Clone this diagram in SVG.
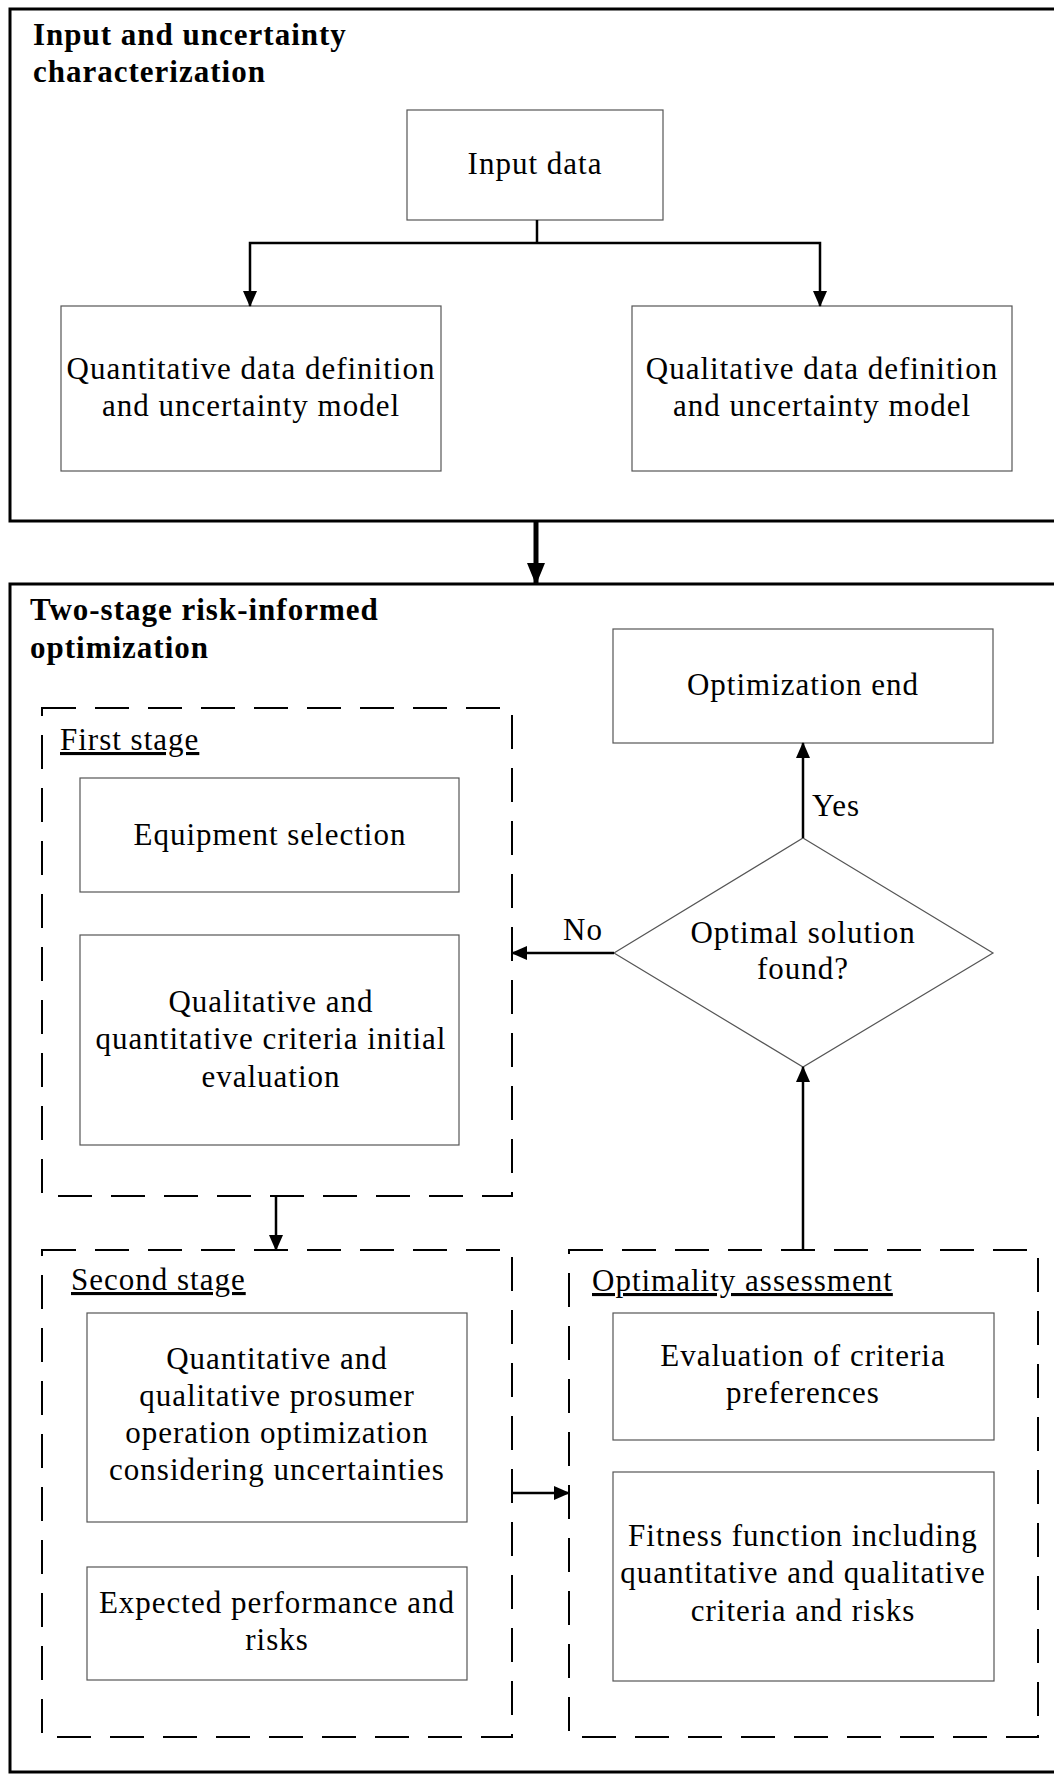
<svg xmlns="http://www.w3.org/2000/svg" width="1054" height="1774" viewBox="0 0 1054 1774">
  <style>
    .frame { fill: none; stroke: #000; stroke-width: 3; }
    .box { fill: #fff; stroke: #555; stroke-width: 1.2; }
    .dash { fill: none; stroke: #000; stroke-width: 2; stroke-dasharray: 34 19; }
    .title { font-family: "Liberation Serif", "DejaVu Serif", serif; font-weight: bold; font-size: 31px; letter-spacing: 1px; fill: #000; }
    .t { font-family: "Liberation Serif", "DejaVu Serif", serif; font-size: 31px; letter-spacing: 1px; fill: #000; text-anchor: middle; }
    .lbl { font-family: "Liberation Serif", "DejaVu Serif", serif; font-size: 31px; letter-spacing: 1px; fill: #000; }
    .ul { text-decoration: underline; }
    .conn { fill: none; stroke: #000; stroke-width: 2.5; }
    .thick { fill: none; stroke: #000; stroke-width: 5; }
  </style>
  <defs>
    <marker id="arr" markerUnits="userSpaceOnUse" markerWidth="16" markerHeight="16" viewBox="0 0 16 16" refX="15" refY="8" orient="auto">
      <path d="M0,1 L16,8 L0,15 Z" fill="#000"/>
    </marker>
    <marker id="arrBig" markerUnits="userSpaceOnUse" markerWidth="22" markerHeight="20" viewBox="0 0 22 20" refX="21" refY="10" orient="auto">
      <path d="M0,1 L22,10 L0,19 Z" fill="#000"/>
    </marker>
  </defs>

  <rect width="1054" height="1774" fill="#fff"/>

  <!-- Section frames -->
  <g id="section-input">
    <rect class="frame" x="10" y="9" width="1060" height="512"/>
    <text class="title" x="33" y="45">Input and uncertainty</text>
    <text class="title" x="33" y="82">characterization</text>
  </g>
  <g id="section-optimization">
    <rect class="frame" x="10" y="584" width="1060" height="1188"/>
    <text class="title" x="30" y="620">Two-stage risk-informed</text>
    <text class="title" x="30" y="658">optimization</text>
  </g>

  <!-- Input section nodes -->
  <g id="input-data">
    <rect class="box" x="407" y="110" width="256" height="110"/>
    <text class="t" x="535" y="174">Input data</text>
  </g>
  <g id="quantitative-data">
    <rect class="box" x="61" y="306" width="380" height="165"/>
    <text class="t" x="251" y="379">Quantitative data definition</text>
    <text class="t" x="251" y="416">and uncertainty model</text>
  </g>
  <g id="qualitative-data">
    <rect class="box" x="632" y="306" width="380" height="165"/>
    <text class="t" x="822" y="379">Qualitative data definition</text>
    <text class="t" x="822" y="416">and uncertainty model</text>
  </g>

  <!-- First stage -->
  <g id="first-stage">
    <rect class="dash" x="42" y="708" width="470" height="488"/>
    <text class="lbl ul" x="60" y="750">First stage</text>
  </g>
  <g id="equipment-selection">
    <rect class="box" x="80" y="778" width="379" height="114"/>
    <text class="t" x="270" y="845">Equipment selection</text>
  </g>
  <g id="initial-evaluation">
    <rect class="box" x="80" y="935" width="379" height="210"/>
    <text class="t" x="271" y="1012">Qualitative and</text>
    <text class="t" x="271" y="1049">quantitative criteria initial</text>
    <text class="t" x="271" y="1087">evaluation</text>
  </g>

  <!-- Second stage -->
  <g id="second-stage">
    <rect class="dash" x="42" y="1250" width="470" height="487"/>
    <text class="lbl ul" x="71" y="1290">Second stage</text>
  </g>
  <g id="operation-optimization">
    <rect class="box" x="87" y="1313" width="380" height="209"/>
    <text class="t" x="277" y="1369">Quantitative and</text>
    <text class="t" x="277" y="1406">qualitative prosumer</text>
    <text class="t" x="277" y="1443">operation optimization</text>
    <text class="t" x="277" y="1480">considering uncertainties</text>
  </g>
  <g id="expected-performance">
    <rect class="box" x="87" y="1567" width="380" height="113"/>
    <text class="t" x="277" y="1613">Expected performance and</text>
    <text class="t" x="277" y="1650">risks</text>
  </g>

  <!-- Optimality assessment -->
  <g id="optimality-assessment">
    <rect class="dash" x="569" y="1250" width="469" height="487"/>
    <text class="lbl ul" x="592" y="1291">Optimality assessment</text>
  </g>
  <g id="criteria-preferences">
    <rect class="box" x="613" y="1313" width="381" height="127"/>
    <text class="t" x="803" y="1366">Evaluation of criteria</text>
    <text class="t" x="803" y="1403">preferences</text>
  </g>
  <g id="fitness-function">
    <rect class="box" x="613" y="1472" width="381" height="209"/>
    <text class="t" x="803" y="1546">Fitness function including</text>
    <text class="t" x="803" y="1583">quantitative and qualitative</text>
    <text class="t" x="803" y="1621">criteria and risks</text>
  </g>

  <!-- Decision and end -->
  <g id="optimal-check">
    <polygon points="803,838 993,953 803,1067 614,953" fill="#fff" stroke="#555" stroke-width="1.2"/>
    <text class="t" x="803" y="943">Optimal solution</text>
    <text class="t" x="803" y="979">found?</text>
  </g>
  <g id="optimization-end">
    <rect class="box" x="613" y="629" width="380" height="114"/>
    <text class="t" x="803" y="695">Optimization end</text>
  </g>

  <!-- Connectors -->
  <g id="connectors">
    <polyline class="conn" points="537,220 537,243"/>
    <polyline class="conn" points="537,243 820,243 820,306" marker-end="url(#arr)"/>
    <polyline class="conn" points="537,243 250,243 250,306" marker-end="url(#arr)"/>
    <line class="thick" x1="536" y1="521" x2="536" y2="584" marker-end="url(#arrBig)"/>
    <line class="conn" x1="276" y1="1196" x2="276" y2="1250" marker-end="url(#arr)"/>
    <line class="conn" x1="512" y1="1493" x2="569" y2="1493" marker-end="url(#arr)"/>
    <line class="conn" x1="803" y1="1250" x2="803" y2="1067" marker-end="url(#arr)"/>
    <line class="conn" x1="803" y1="838" x2="803" y2="743" marker-end="url(#arr)"/>
    <line class="conn" x1="614" y1="953" x2="512" y2="953" marker-end="url(#arr)"/>
    <text class="lbl" x="812" y="816">Yes</text>
    <text class="lbl" x="563" y="940">No</text>
  </g>
</svg>
